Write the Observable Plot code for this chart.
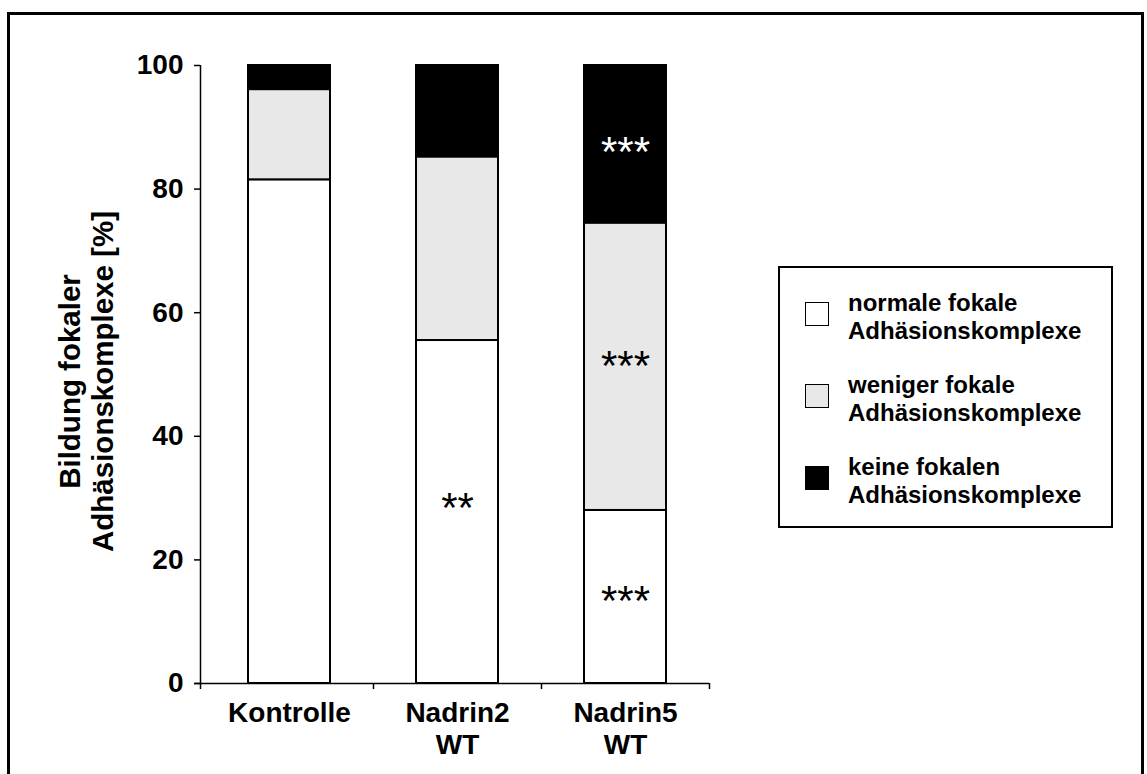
<!DOCTYPE html>
<html>
<head>
<meta charset="utf-8">
<script src="https://cdn.jsdelivr.net/npm/d3@7"></script>
<script src="https://cdn.jsdelivr.net/npm/@observablehq/plot@0.6"></script>
<style>
  html, body { margin: 0; padding: 0; background: #fff; }
  body { font-family: "Liberation Sans", Arial, sans-serif; }
  #wrap { position: relative; width: 1147px; height: 774px; overflow: hidden; background: #fff; }
  #chart { position: absolute; left: 0; top: 0; }
  #border { position: absolute; left: 7px; top: 12px; width: 1137px; height: 820px; border: 3px solid #000; box-sizing: border-box; pointer-events: none; }
  #legend { position: absolute; left: 778px; top: 266px; width: 335px; height: 262px; border: 2px solid #000; box-sizing: border-box; background: #fff; }
  .grp { position: absolute; left: 68px; font-size: 24px; font-weight: bold; line-height: 28px; color: #000; white-space: nowrap; }
  .sw { position: absolute; left: 25px; width: 24px; height: 24px; border: 1px solid #000; box-sizing: border-box; }
</style>
</head>
<body>
<div id="wrap">
  <div id="chart"></div>
  <div id="legend"></div>
  <div id="border"></div>
</div>
<script>
// ---- data ----
const categories = ["Kontrolle", "Nadrin2\nWT", "Nadrin5\nWT"];
const seriesNames = [
  "normale fokale\nAdhäsionskomplexe",
  "weniger fokale\nAdhäsionskomplexe",
  "keine fokalen\nAdhäsionskomplexe"
];
const seriesColors = ["#ffffff", "#e8e8e8", "#000000"];
const normal  = [81.5, 55.5, 28.0];
const weniger = [14.6, 29.7, 46.5];
const keine   = [3.9, 14.8, 25.5];
const yTicks = [0, 20, 40, 60, 80, 100];
const yTitle = ["Bildung fokaler", "Adhäsionskomplexe [%]"];
const starLabels = ["**", "***", "***", "***"];
const starCategory = [1, 2, 2, 2];
const starValue = [29.3, 14.3, 52.3, 86.9];
const starColor = ["#000", "#000", "#000", "#fff"];

// ---- tables built from the arrays ----
const values = [normal, weniger, keine];
const rows = [];
categories.forEach((c, i) => {
  seriesNames.forEach((s, k) => rows.push({i, series: s, value: values[k][i]}));
});
const stars = starLabels.map((t, j) => ({t, i: starCategory[j], v: starValue[j], c: starColor[j]}));
const catIdx = categories.map((c, i) => ({c, i}));
const bandEdges = d3.range(1, categories.length + 1);

const font = "'Liberation Sans', Arial, sans-serif";

const plot = Plot.plot({
  width: 1147,
  height: 774,
  marginLeft: 200,
  marginRight: 438,
  marginTop: 65,
  marginBottom: 91,
  style: {fontFamily: font, background: "transparent", color: "#000", overflow: "visible"},
  x: {domain: [0, categories.length], range: [205, 709], axis: null},
  y: {domain: [0, 100], axis: null},
  color: {domain: seriesNames, range: seriesColors},
  marks: [
    Plot.rectY(rows, {
      x: "i", y: "value", interval: 1, fill: "series",
      stroke: "#000", strokeWidth: 2, insetLeft: 43, insetRight: 43
    }),
    Plot.ruleX([0], {dx: -5, insetBottom: -6, stroke: "#000", strokeWidth: 1.5}),
    Plot.ruleY([0], {insetLeft: -6, stroke: "#000", strokeWidth: 1.5}),
    Plot.axisY({ticks: yTicks, tickSize: 6, tickPadding: 11, fontSize: 28, fontWeight: "bold",
                label: null, strokeWidth: 1.5}),
    Plot.axisX({ticks: bandEdges, tickSize: 6, tickFormat: () => "", label: null, strokeWidth: 1.5}),
    Plot.text(catIdx, {
      x: d => d.i + 0.5, text: "c", frameAnchor: "bottom", lineAnchor: "top",
      dy: 16, fontSize: 28, fontWeight: "bold", lineHeight: 1.143, fill: "#000"
    }),
    Plot.text(stars, {
      x: d => d.i + 0.5, y: "v", text: "t", fill: "c", fontSize: 42,
      fontWeight: "normal", lineAnchor: "middle", dy: 6
    }),
    Plot.text([yTitle[0]], {
      frameAnchor: "left", rotate: -90, dx: -130.4, dy: 7, fontSize: 29.5,
      fontWeight: "bold", lineAnchor: "middle", textAnchor: "middle", fill: "#000"
    }),
    Plot.text([yTitle[1]], {
      frameAnchor: "left", rotate: -90, dx: -97.4, dy: 7, fontSize: 29.5,
      fontWeight: "bold", lineAnchor: "middle", textAnchor: "middle", fill: "#000"
    })
  ]
});
document.getElementById("chart").appendChild(plot);

// ---- legend ----
const legend = document.getElementById("legend");
const groupTops = [20.7, 102.7, 184.7];
seriesNames.forEach((s, k) => {
  const sw = document.createElement("div");
  sw.className = "sw";
  sw.style.top = (groupTops[k] + 13.3) + "px";
  sw.style.background = seriesColors[k];
  legend.appendChild(sw);
  const g = document.createElement("div");
  g.className = "grp";
  g.style.top = groupTops[k] + "px";
  g.innerHTML = s.split("\n").join("<br>");
  legend.appendChild(g);
});
</script>
</body>
</html>
